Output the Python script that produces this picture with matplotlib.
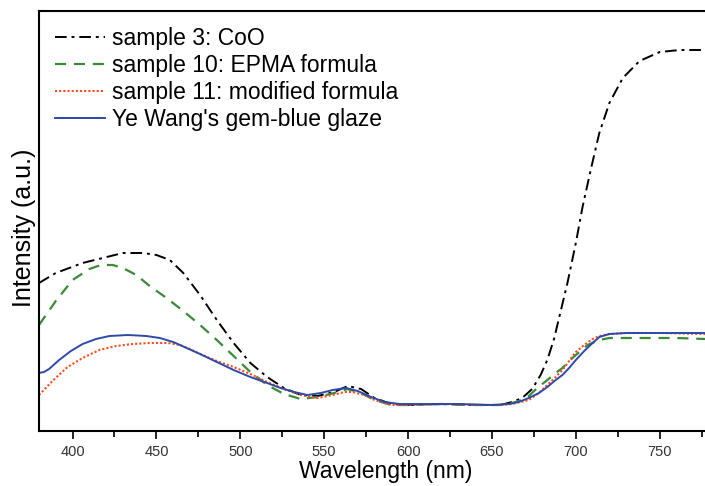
import numpy as np
import matplotlib.pyplot as plt
from matplotlib.ticker import MultipleLocator

wl_s3 = [380, 390, 406, 418, 430, 442, 450, 458, 466, 476, 486, 496, 506, 516, 526, 536, 546, 556, 564, 572,
         580, 590, 600, 620, 640, 655, 662, 668, 674, 679, 683, 687, 691, 695, 700, 704, 709, 714, 720, 728,
         738, 750, 762, 777]
int_s3 = [1.48, 1.58, 1.68, 1.73, 1.78, 1.78, 1.76, 1.71, 1.58, 1.36, 1.11, 0.88, 0.68, 0.54, 0.43, 0.36, 0.35,
          0.39, 0.45, 0.42, 0.33, 0.27, 0.26, 0.27, 0.26, 0.26, 0.29, 0.33, 0.42, 0.56, 0.71, 0.92, 1.20, 1.48,
          1.88, 2.24, 2.62, 2.98, 3.28, 3.53, 3.70, 3.79, 3.81, 3.81]

wl_s10 = [380, 390, 400, 410, 417, 424, 430, 438, 446, 456, 466, 476, 486, 496, 506, 516, 526, 536, 546, 556,
          564, 572, 580, 590, 600, 620, 640, 655, 662, 668, 672, 677, 683, 688, 692, 696, 700, 707, 714, 720,
          728, 740, 760, 777]
int_s10 = [1.06, 1.30, 1.51, 1.62, 1.66, 1.66, 1.63, 1.56, 1.45, 1.33, 1.20, 1.06, 0.91, 0.75, 0.59, 0.46, 0.37,
           0.32, 0.34, 0.38, 0.42, 0.38, 0.31, 0.26, 0.26, 0.27, 0.26, 0.26, 0.28, 0.31, 0.35, 0.43, 0.51, 0.58,
           0.63, 0.70, 0.76, 0.86, 0.91, 0.93, 0.93, 0.93, 0.93, 0.92]

wl_s11 = [380, 388, 397, 406, 416, 426, 436, 446, 457, 464, 470, 476, 486, 496, 506, 516, 526, 536, 546, 555,
          562, 567, 574, 580, 590, 600, 620, 640, 655, 662, 667, 672, 678, 683, 688, 692, 696, 700, 705, 710,
          714, 720, 730, 750, 777]
int_s11 = [0.36, 0.50, 0.64, 0.73, 0.81, 0.85, 0.87, 0.88, 0.88, 0.86, 0.82, 0.77, 0.70, 0.64, 0.57, 0.49, 0.42,
           0.36, 0.33, 0.36, 0.39, 0.39, 0.36, 0.31, 0.26, 0.26, 0.27, 0.26, 0.26, 0.27, 0.29, 0.31, 0.38, 0.46,
           0.54, 0.61, 0.70, 0.79, 0.86, 0.92, 0.95, 0.97, 0.98, 0.98, 0.97]

wl_ye = [380, 383, 386, 392, 399, 406, 414, 422, 433, 444, 452, 460, 468, 476, 486, 496, 506, 516, 524, 532,
         540, 548, 555, 563, 570, 578, 586, 595, 610, 630, 650, 660, 666, 672, 678, 683, 688, 692, 696, 700,
         705, 710, 714, 720, 730, 750, 777]
int_ye = [0.58, 0.59, 0.62, 0.71, 0.80, 0.87, 0.92, 0.95, 0.96, 0.95, 0.93, 0.89, 0.83, 0.77, 0.69, 0.61, 0.54,
          0.48, 0.43, 0.39, 0.36, 0.38, 0.41, 0.43, 0.40, 0.34, 0.29, 0.27, 0.27, 0.27, 0.26, 0.27, 0.29, 0.33,
          0.38, 0.44, 0.51, 0.56, 0.63, 0.71, 0.80, 0.88, 0.94, 0.97, 0.98, 0.98, 0.98]

labels = ["sample 3: CoO", "sample 10: EPMA formula", "sample 11: modified formula",
          "Ye Wang's gem-blue glaze"]

plt.rcParams['font.family'] = ['Liberation Sans', 'DejaVu Sans']

fig = plt.figure(figsize=(7.05, 4.86), dpi=100)
ax = fig.add_axes([39 / 705, 1 - 431 / 486, 1 - 39 / 705, 420 / 486])

ax.plot(wl_s3, int_s3, color='black', lw=1.4, ls=(0, (6, 2.5, 1.5, 2.5)), label=labels[0])
ax.plot(wl_s10, int_s10, color='#3c8a37', lw=1.6, ls=(0, (5, 3.5)), label=labels[1])
ax.plot(wl_s11, int_s11, color='#ff4a1c', lw=1.5, ls=(0, (1, 1)), label=labels[2])
ax.plot(wl_ye, int_ye, color='#2d4aa8', lw=1.4, label=labels[3])

ax.set_xlim(380, 777)
ax.set_ylim(0, 4.2)
ax.xaxis.set_major_locator(MultipleLocator(50))
ax.xaxis.set_minor_locator(MultipleLocator(25))
ax.set_yticks([])
ax.tick_params(axis='x', which='major', length=6, width=1.2, direction='out',
               labelsize=10.5, labelcolor='#333333', pad=4)
ax.tick_params(axis='x', which='minor', length=4, width=1.2, direction='out')
for side in ['left', 'bottom', 'top']:
    ax.spines[side].set_linewidth(1.5)
ax.spines['right'].set_visible(False)

ax.set_xlabel("Wavelength (nm)", fontsize=16.5, labelpad=1)
ax.xaxis.label.set_x(0.52)
ax.set_ylabel("Intensity (a.u.)", fontsize=18, labelpad=2)
ax.yaxis.label.set_y(0.483)

ax.legend(loc='upper left', frameon=False, fontsize=16.5, handlelength=2.2, handletextpad=0.3,
          labelspacing=0.18, borderaxespad=0.3, bbox_to_anchor=(0.0, 1.0))

fig.savefig("out.png", dpi=100)
